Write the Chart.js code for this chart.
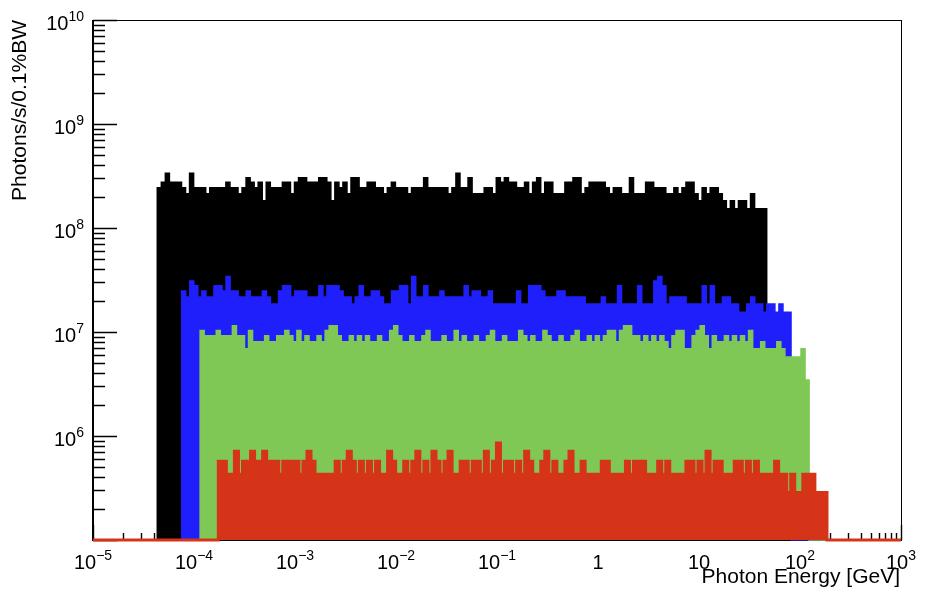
<!DOCTYPE html>
<html>
<head>
<meta charset="utf-8">
<script src="https://cdn.jsdelivr.net/npm/chart.js@4.4.1/dist/chart.umd.min.js"></script>
<style>
html,body{margin:0;padding:0;background:#ffffff;}
#wrap{width:930px;height:597px;position:relative;}
</style>
</head>
<body>
<div id="wrap"><canvas id="c"></canvas></div>
<script>
// ---- axes ----
const xAxisRange = [1e-5, 1e3];
const yAxisRange = [1e5, 1e10];
const xTickValues = [1e-5, 1e-4, 1e-3, 1e-2, 1e-1, 1, 10, 100, 1000];
const xTickLabels = [['10','\u22125'],['10','\u22124'],['10','\u22123'],['10','\u22122'],['10','\u22121'],['1',''],['10',''],['10','2'],['10','3']];
const yTickValues = [1e6, 1e7, 1e8, 1e9, 1e10];
const yTickLabels = [['10','6'],['10','7'],['10','8'],['10','9'],['10','10']];
const xTitle = 'Photon Energy [GeV]';
const yTitle = 'Photons/s/0.1%BW';

// ---- histograms: [first bin low edge, last bin high edge] and bin contents ----
const blackRange = [4.33e-5, 46.8];
const blackValues = [
2.44e8,2.75e8,3.36e8,2.75e8,2.75e8,2.75e8,2.44e8,2.14e8,3.36e8,2.44e8,
2.44e8,2.44e8,2.14e8,2.44e8,2.44e8,2.44e8,2.44e8,2.75e8,2.44e8,2.44e8,
2.14e8,2.44e8,3.05e8,2.75e8,2.44e8,2.75e8,1.83e8,2.75e8,2.44e8,2.44e8,
2.44e8,2.75e8,2.75e8,2.14e8,2.75e8,3.05e8,3.05e8,2.75e8,2.75e8,2.75e8,
3.05e8,3.05e8,2.75e8,1.83e8,2.75e8,2.44e8,2.75e8,2.14e8,3.05e8,3.05e8,
2.44e8,2.44e8,2.75e8,2.75e8,2.44e8,2.44e8,2.14e8,2.44e8,2.75e8,2.44e8,
2.44e8,2.44e8,2.14e8,2.44e8,2.44e8,2.44e8,3.05e8,2.44e8,2.44e8,2.44e8,
2.44e8,2.44e8,2.14e8,2.44e8,3.36e8,2.44e8,2.44e8,3.05e8,2.14e8,2.14e8,
2.14e8,2.44e8,2.44e8,2.14e8,3.05e8,2.75e8,3.05e8,2.75e8,2.75e8,2.44e8,
2.44e8,2.75e8,2.14e8,2.75e8,3.05e8,2.14e8,2.75e8,2.75e8,2.14e8,2.14e8,
2.14e8,2.75e8,2.75e8,3.05e8,3.05e8,2.14e8,2.44e8,2.75e8,2.75e8,2.75e8,
2.75e8,2.44e8,2.14e8,2.44e8,2.44e8,2.14e8,2.14e8,3.05e8,2.14e8,2.14e8,
2.14e8,2.75e8,2.75e8,2.44e8,2.44e8,2.44e8,2.14e8,2.14e8,2.44e8,2.14e8,
2.44e8,2.75e8,2.75e8,2.14e8,1.83e8,2.44e8,2.14e8,2.44e8,2.44e8,2.14e8,
1.83e8,1.53e8,1.83e8,1.53e8,1.83e8,1.83e8,1.53e8,2.14e8,1.53e8,1.53e8,1.53e8
];

const blueRange = [7.55e-5, 81.5];
const blueValues = [
2.48e7,2.17e7,3.10e7,2.79e7,2.17e7,2.48e7,2.17e7,2.17e7,2.79e7,2.79e7,
2.48e7,3.41e7,2.48e7,2.48e7,2.17e7,2.17e7,2.48e7,2.17e7,2.17e7,2.17e7,
2.48e7,2.17e7,1.86e7,1.86e7,2.48e7,2.79e7,2.79e7,2.17e7,2.48e7,2.48e7,
2.48e7,2.17e7,2.17e7,2.17e7,2.79e7,2.17e7,2.79e7,2.79e7,2.79e7,2.48e7,
2.17e7,2.17e7,1.86e7,2.17e7,2.79e7,2.17e7,2.17e7,2.48e7,2.48e7,2.17e7,
1.86e7,1.86e7,2.48e7,2.48e7,2.79e7,2.79e7,1.86e7,3.41e7,2.17e7,2.17e7,
2.79e7,2.17e7,2.17e7,2.17e7,2.48e7,2.17e7,2.17e7,2.17e7,2.17e7,2.17e7,
2.79e7,2.17e7,2.48e7,2.48e7,2.17e7,2.17e7,2.48e7,1.86e7,1.86e7,1.86e7,
1.86e7,1.86e7,1.86e7,2.48e7,1.86e7,1.86e7,2.79e7,2.79e7,2.79e7,2.48e7,
2.17e7,2.17e7,2.17e7,2.48e7,2.48e7,2.17e7,2.17e7,2.17e7,2.17e7,2.17e7,
1.86e7,1.86e7,1.86e7,1.86e7,2.17e7,1.86e7,1.86e7,1.86e7,2.79e7,1.86e7,
1.86e7,1.86e7,1.86e7,2.79e7,1.86e7,1.86e7,1.86e7,3.10e7,3.41e7,2.79e7,
1.86e7,2.17e7,2.17e7,2.17e7,2.17e7,1.86e7,1.86e7,1.86e7,1.86e7,2.79e7,
1.86e7,2.79e7,1.86e7,1.86e7,2.17e7,2.17e7,1.86e7,1.86e7,1.55e7,1.55e7,
1.86e7,2.17e7,1.86e7,1.86e7,1.55e7,1.86e7,1.86e7,1.55e7,1.86e7,1.55e7,1.55e7
];

const greenRange = [1.15e-4, 123];
const greenValues = [
1.035e7,9.2e6,9.2e6,9.2e6,1.035e7,9.2e6,9.2e6,9.2e6,1.15e7,9.2e6,
9.2e6,6.9e6,1.035e7,8.05e6,8.05e6,8.05e6,9.2e6,8.05e6,8.05e6,9.2e6,
9.2e6,1.035e7,9.2e6,8.05e6,1.035e7,8.05e6,9.2e6,8.05e6,8.05e6,9.2e6,
8.05e6,1.035e7,1.15e7,1.15e7,9.2e6,8.05e6,8.05e6,9.2e6,8.05e6,9.2e6,
8.05e6,9.2e6,8.05e6,8.05e6,9.2e6,8.05e6,8.05e6,1.035e7,1.15e7,9.2e6,
8.05e6,8.05e6,9.2e6,8.05e6,8.05e6,9.2e6,1.035e7,8.05e6,8.05e6,8.05e6,
9.2e6,8.05e6,8.05e6,1.035e7,8.05e6,9.2e6,8.05e6,8.05e6,9.2e6,8.05e6,
8.05e6,9.2e6,1.035e7,8.05e6,8.05e6,9.2e6,8.05e6,8.05e6,8.05e6,1.035e7,
9.2e6,8.05e6,9.2e6,8.05e6,8.05e6,1.035e7,9.2e6,8.05e6,8.05e6,9.2e6,
8.05e6,8.05e6,9.2e6,1.035e7,8.05e6,8.05e6,9.2e6,8.05e6,9.2e6,8.05e6,
9.2e6,1.035e7,1.035e7,8.05e6,1.035e7,1.15e7,1.15e7,9.2e6,9.2e6,8.05e6,
9.2e6,8.05e6,9.2e6,8.05e6,9.2e6,8.05e6,6.9e6,9.2e6,1.035e7,1.035e7,
6.9e6,6.9e6,9.2e6,1.035e7,1.15e7,9.2e6,6.9e6,9.2e6,8.05e6,8.05e6,
9.2e6,8.05e6,9.2e6,8.05e6,9.2e6,8.05e6,1.035e7,6.9e6,6.9e6,8.05e6,
6.9e6,6.9e6,6.9e6,8.05e6,6.9e6,5.75e6,5.75e6,5.75e6,5.75e6,6.9e6,3.45e6
];

const redRange = [1.74e-4, 185];
const redValues = [
5.72e5,5.72e5,4.29e5,4.29e5,7.15e5,4.29e5,5.72e5,5.72e5,7.15e5,5.72e5,
5.72e5,7.15e5,5.72e5,5.72e5,5.72e5,4.29e5,5.72e5,5.72e5,5.72e5,5.72e5,
4.29e5,5.72e5,7.15e5,5.72e5,4.29e5,4.29e5,4.29e5,4.29e5,4.29e5,5.72e5,
4.29e5,5.72e5,7.15e5,5.72e5,4.29e5,5.72e5,4.29e5,5.72e5,4.29e5,5.72e5,
4.29e5,4.29e5,7.15e5,5.72e5,4.29e5,
4.29e5,5.72e5,4.29e5,5.72e5,7.15e5,4.29e5,5.72e5,4.29e5,7.15e5,5.72e5,
4.29e5,5.72e5,7.15e5,4.29e5,4.29e5,5.72e5,5.72e5,4.29e5,5.72e5,5.72e5,
4.29e5,7.15e5,4.29e5,5.72e5,8.58e5,4.29e5,5.72e5,5.72e5,4.29e5,5.72e5,
4.29e5,7.15e5,5.72e5,4.29e5,4.29e5,5.72e5,7.15e5,4.29e5,5.72e5,4.29e5,
4.29e5,5.72e5,7.15e5,4.29e5,4.29e5,5.72e5,4.29e5,4.29e5,4.29e5,4.29e5,
5.72e5,5.72e5,4.29e5,4.29e5,4.29e5,4.29e5,5.72e5,4.29e5,5.72e5,5.72e5,
5.72e5,4.29e5,4.29e5,4.29e5,5.72e5,4.29e5,5.72e5,4.29e5,4.29e5,4.29e5,
4.29e5,5.72e5,5.72e5,4.29e5,5.72e5,4.29e5,7.15e5,4.29e5,5.72e5,5.72e5,
4.29e5,4.29e5,4.29e5,5.72e5,5.72e5,4.29e5,5.72e5,4.29e5,5.72e5,4.29e5,
4.29e5,4.29e5,4.29e5,5.72e5,4.29e5,4.29e5,2.86e5,4.29e5,2.86e5,2.86e5,
4.29e5,4.29e5,4.29e5,2.86e5,2.86e5,2.86e5
];

const seriesColors = {black:'#000000', blue:'#1f1ffc', green:'#80c856', red:'#d63419'};

// empty bins sit on the floor of the log axis (as ROOT draws them)
const emptyBinLevel = yAxisRange[0];

// histogram -> stepped points (log-uniform bins between the range edges, empty elsewhere)
function histPoints(range, values) {
  const n = values.length;
  const l0 = Math.log10(range[0]), l1 = Math.log10(range[1]);
  const pts = [{x: xAxisRange[0], y: emptyBinLevel}];
  for (let i = 0; i < n; i++) pts.push({x: Math.pow(10, l0 + (l1 - l0) * i / n), y: values[i]});
  pts.push({x: range[1], y: emptyBinLevel});
  pts.push({x: xAxisRange[1], y: emptyBinLevel});
  return pts;
}

function ds(label, range, values, color, bw) {
  return {
    label: label, data: histPoints(range, values),
    borderColor: color, backgroundColor: color, borderWidth: bw,
    fill: 'start', stepped: 'before', pointRadius: 0, tension: 0,
    clip: {left: 0, right: 0, top: 0, bottom: 4}
  };
}

const FONT = '"Liberation Sans", Arial, Helvetica, sans-serif';

function minorValues(lo, hi) {
  const out = [];
  for (let e = Math.floor(Math.log10(lo)); e <= Math.ceil(Math.log10(hi)); e++) {
    for (let k = 1; k <= 9; k++) {
      const v = k * Math.pow(10, e);
      if (v >= lo * 0.999 && v <= hi * 1.001) out.push({v: v, major: k === 1});
    }
  }
  return out;
}

const rootAxes = {
  id: 'rootAxes',
  beforeDatasetsDraw(chart) {
    const {ctx, chartArea: a, scales: {x, y}} = chart;
    ctx.save();
    ctx.strokeStyle = '#000';
    // frame
    ctx.lineWidth = 1;
    ctx.beginPath();
    ctx.moveTo(a.left, a.top + 0.5); ctx.lineTo(a.right, a.top + 0.5);
    ctx.moveTo(a.right + 0.5, a.top); ctx.lineTo(a.right + 0.5, a.bottom);
    ctx.stroke();
    ctx.lineWidth = 2;
    ctx.beginPath();
    ctx.moveTo(a.left, a.top); ctx.lineTo(a.left, a.bottom + 1);
    ctx.moveTo(a.left, a.bottom); ctx.lineTo(a.right + 1, a.bottom);
    ctx.stroke();
    // ticks (inside the frame)
    ctx.lineWidth = 1.4;
    ctx.beginPath();
    minorValues(yAxisRange[0], yAxisRange[1]).forEach(t => {
      const py = Math.round(y.getPixelForValue(t.v)) + 0.5;
      const len = t.major ? 24 : 12;
      ctx.moveTo(a.left, py); ctx.lineTo(a.left + len, py);
    });
    minorValues(xAxisRange[0], xAxisRange[1]).forEach(t => {
      const px = Math.round(x.getPixelForValue(t.v)) + 0.5;
      const len = t.major ? 15 : 7;
      ctx.moveTo(px, a.bottom); ctx.lineTo(px, a.bottom - len);
    });
    ctx.stroke();
    ctx.restore();
  },
  afterDraw(chart) {
    const {ctx, chartArea: a, scales: {x, y}} = chart;
    const bf = '20px ' + FONT, sf = '14px ' + FONT;
    ctx.save();
    ctx.fillStyle = '#000';
    ctx.textBaseline = 'alphabetic';
    ctx.textAlign = 'left';
    xTickValues.forEach((v, i) => {
      const [b, e] = xTickLabels[i];
      ctx.font = bf; const wb = ctx.measureText(b).width;
      ctx.font = sf; const we = e ? ctx.measureText(e).width : 0;
      const px = x.getPixelForValue(v);
      const x0 = px - (wb + we) / 2;
      ctx.font = bf; ctx.fillText(b, x0, a.bottom + 29);
      if (e) { ctx.font = sf; ctx.fillText(e, x0 + wb, a.bottom + 20); }
    });
    yTickValues.forEach((v, i) => {
      const [b, e] = yTickLabels[i];
      ctx.font = bf; const wb = ctx.measureText(b).width;
      ctx.font = sf; const we = ctx.measureText(e).width;
      const py = y.getPixelForValue(v);
      const x0 = a.left - 9 - wb - we;
      ctx.font = bf; ctx.fillText(b, x0, py + 10);
      ctx.font = sf; ctx.fillText(e, x0 + wb, py + 1);
    });
    // axis titles
    ctx.font = '21px ' + FONT;
    ctx.textAlign = 'right';
    ctx.fillText(xTitle, a.right - 1, a.bottom + 43);
    ctx.translate(26, a.top);
    ctx.rotate(-Math.PI / 2);
    ctx.textAlign = 'right';
    ctx.fillText(yTitle, 0, 0);
    ctx.restore();
  }
};

new Chart(document.getElementById('c'), {
  type: 'line',
  data: {
    datasets: [
      ds('red', redRange, redValues, seriesColors.red, 3),
      ds('green', greenRange, greenValues, seriesColors.green, 1.5),
      ds('blue', blueRange, blueValues, seriesColors.blue, 1.5),
      ds('black', blackRange, blackValues, seriesColors.black, 1.5)
    ]
  },
  options: {
    responsive: true,
    maintainAspectRatio: false,
    animation: false,
    events: [],
    layout: {padding: {top: 20, right: 29, left: 0, bottom: 0}},
    plugins: {legend: {display: false}, tooltip: {enabled: false}},
    elements: {point: {radius: 0}, line: {tension: 0}},
    scales: {
      x: {
        type: 'logarithmic', min: xAxisRange[0], max: xAxisRange[1],
        grid: {display: false}, border: {display: false}, ticks: {display: false},
        afterFit: s => { s.height = 57; }
      },
      y: {
        type: 'logarithmic', min: yAxisRange[0], max: yAxisRange[1],
        grid: {display: false}, border: {display: false}, ticks: {display: false},
        afterFit: s => { s.width = 93; }
      }
    }
  },
  plugins: [rootAxes]
});
</script>
</body>
</html>
